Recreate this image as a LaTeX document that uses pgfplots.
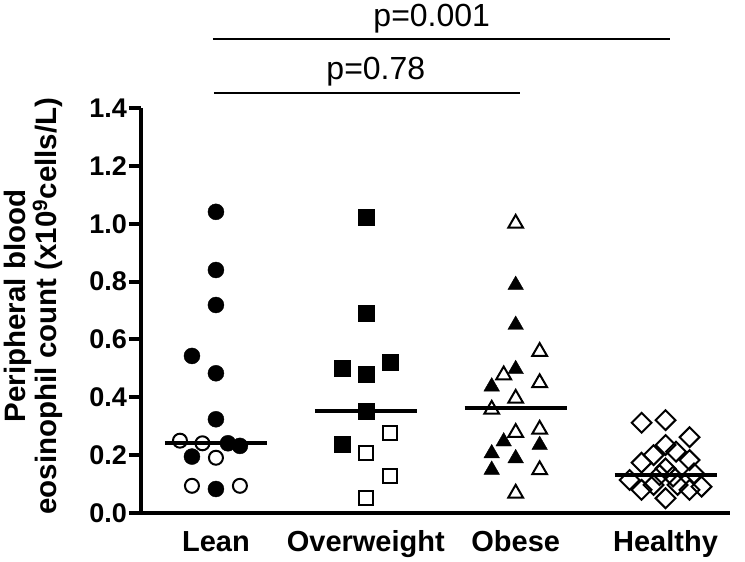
\documentclass[border=0pt]{standalone}
\usepackage{fontspec}
\setmainfont{Liberation Sans}
\usepackage{pgfplots}
\pgfplotsset{compat=1.18}

% medians of each group
\newcommand{\medlean}{0.241}
\newcommand{\medover}{0.353}
\newcommand{\medobese}{0.362}
\newcommand{\medhealthy}{0.131}

\begin{document}
\begin{tikzpicture}
\useasboundingbox (-141pt,-49pt) rectangle (604pt,513pt);
\begin{axis}[
  scale only axis, width=589pt, height=405pt,
  xmin=0.5, xmax=4.43, ymin=0, ymax=1.4,
  axis lines=left,
  axis line style={-, line width=4pt},
  clip=false,
  xtick={1,2,3,4},
  xticklabels={Lean,Overweight,Obese,Healthy},
  x tick style={draw=none},
  xticklabel style={font=\fontsize{29}{29}\selectfont\bfseries, anchor=base, yshift=-27pt},
  ytick={0,0.2,0.4,0.6,0.8,1.0,1.2,1.4},
  y tick style={line width=4pt, black},
  tick align=outside, major tick length=12pt,
  yticklabel style={font=\fontsize{27}{27}\selectfont\bfseries, inner xsep=2pt,
    /pgf/number format/fixed, /pgf/number format/fixed zerofill,
    /pgf/number format/precision=1},
  /pgf/number format/assume math mode=true,
  ylabel={Peripheral blood\\eosinophil count (x10\textsuperscript{9}cells/L)},
  ylabel style={at={(axis description cs:-0.183,0.511)}, anchor=center, align=center,
    font=\fontsize{29.5}{26}\selectfont\bfseries},
]
% median lines
\addplot[line width=4pt] coordinates {(0.66,\medlean) (1.34,\medlean)};
\addplot[line width=4pt] coordinates {(1.66,\medover) (2.34,\medover)};
\addplot[line width=4pt] coordinates {(2.66,\medobese) (3.34,\medobese)};
\addplot[line width=4pt] coordinates {(3.66,\medhealthy) (4.34,\medhealthy)};

% Lean
\addplot[only marks, mark=*, mark size=8pt, black] coordinates {
  (1,1.041) (1,0.840) (1,0.719) (0.84,0.543) (1,0.483) (1,0.324)
  (1.08,0.241) (1.16,0.232) (0.84,0.195) (1,0.083)};
\addplot[only marks, mark=o, mark size=7pt, black, mark options={line width=2pt}] coordinates {
  (0.76,0.250) (0.91,0.241) (1,0.191) (0.84,0.094) (1.16,0.094)};

% Overweight
\addplot[only marks, mark=square*, mark size=8pt, black] coordinates {
  (2,1.021) (2,0.690) (1.84,0.500) (2.16,0.520) (2,0.479) (2,0.353) (1.84,0.239)};
\addplot[only marks, mark=square, mark size=7pt, black, mark options={line width=2pt}] coordinates {
  (2.16,0.278) (2,0.208) (2.16,0.129) (2,0.051)};

% Obese
\addplot[only marks, mark=triangle*, mark size=9pt, black] coordinates {
  (3,0.788) (3,0.650) (3,0.497) (2.84,0.437) (2.92,0.247) (3.16,0.235)
  (2.84,0.206) (3,0.189) (2.84,0.149)};
\addplot[only marks, mark=triangle, mark size=8.5pt, black, mark options={line width=2pt}] coordinates {
  (3,1.001) (3.16,0.558) (2.92,0.477) (3.16,0.450) (3,0.396) (2.84,0.358)
  (3,0.278) (3.16,0.289) (3.16,0.149) (3,0.068)};

% Healthy
\addplot[only marks, mark=square, mark size=7pt, black, mark options={line width=2pt, rotate=45}] coordinates {
  (3.84,0.312) (4.0,0.321) (4.16,0.262) (4.0,0.235) (3.92,0.200) (4.07,0.212)
  (3.84,0.174) (4.16,0.183) (4.0,0.154) (3.96,0.131) (4.05,0.126) (4.19,0.137)
  (3.76,0.114) (3.92,0.097) (4.08,0.097) (3.84,0.080) (4.16,0.080) (4.24,0.091)
  (4.0,0.051)};

% significance bars
\draw[line width=2pt] (axis cs:0.98,1.638) -- (axis cs:4.03,1.638);
\node[anchor=base, font=\fontsize{32}{32}\selectfont] at (axis cs:2.44,1.683) {p=0.001};
\draw[line width=2pt] (axis cs:0.987,1.452) -- (axis cs:3.027,1.452);
\node[anchor=base, font=\fontsize{32}{32}\selectfont] at (axis cs:2.067,1.497) {p=0.78};
\end{axis}
\end{tikzpicture}
\end{document}
